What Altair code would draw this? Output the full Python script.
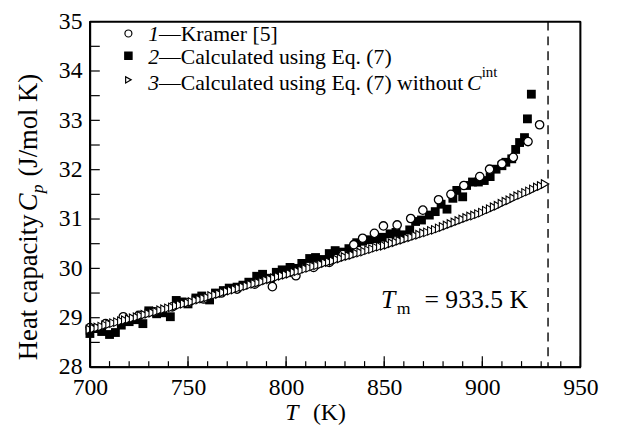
import altair as alt
import pandas as pd

# ---------------- data ----------------
# Series 3: calculated using Eq. (7) without C_int (dense, every 2 K)
tri_T = list(range(700, 933, 2))
tri_Cp = [
    28.76, 28.78, 28.80, 28.82, 28.85, 28.87, 28.89, 28.91, 28.93, 28.95, 28.97, 28.99, 29.01,
    29.04, 29.06, 29.08, 29.10, 29.12, 29.15, 29.17, 29.19, 29.21, 29.24, 29.26, 29.28, 29.30,
    29.32, 29.35, 29.37, 29.39, 29.41, 29.44, 29.46, 29.48, 29.51, 29.53, 29.55, 29.57, 29.60,
    29.62, 29.64, 29.67, 29.69, 29.71, 29.73, 29.76, 29.78, 29.80, 29.83, 29.85, 29.87,
    29.89, 29.92, 29.94, 29.96, 29.99, 30.01, 30.04, 30.06, 30.08, 30.11, 30.13, 30.15, 30.18,
    30.20, 30.23, 30.25, 30.27, 30.30, 30.32, 30.34, 30.37, 30.39, 30.42, 30.44, 30.46,
    30.48, 30.51, 30.53, 30.56, 30.58, 30.61, 30.63, 30.66, 30.68, 30.71, 30.73, 30.76, 30.78,
    30.81, 30.84, 30.87, 30.90, 30.93, 30.96, 30.99, 31.02, 31.05, 31.07, 31.10, 31.13,
    31.17, 31.20, 31.24, 31.27, 31.31, 31.35, 31.38, 31.42, 31.46, 31.49, 31.53, 31.56, 31.60,
    31.64, 31.67, 31.71,
]

# Series 2: calculated using Eq. (7)
sq_T = [700, 703, 706, 710, 713, 716, 720, 723, 727, 730, 734, 737, 741, 744, 747, 750,
        754, 757, 761, 764, 768, 771, 775, 778, 781, 785, 788, 792, 795, 798, 802, 805,
        808, 812, 815, 819, 822, 825, 829, 832, 836, 839, 842, 846, 849, 853, 856, 859,
        863, 866, 869, 873, 876, 879, 882, 885, 887, 890, 892, 895, 898, 901, 904, 907,
        910, 912, 915, 917, 919, 921.5, 923, 925]
sq_Cp = [28.68, 28.78, 28.72, 28.66, 28.70, 28.85, 28.92, 28.96, 28.88, 29.14, 29.08, 29.10,
         29.02, 29.35, 29.32, 29.28, 29.40, 29.44, 29.36, 29.50, 29.55, 29.60, 29.62, 29.66,
         29.72, 29.84, 29.88, 29.80, 29.92, 29.97, 30.02, 30.00, 30.10, 30.20, 30.22, 30.18,
         30.30, 30.36, 30.33, 30.40, 30.52, 30.55, 30.58, 30.60, 30.63, 30.70, 30.73, 30.68,
         30.78, 30.95, 30.98, 31.08, 31.15, 31.30, 31.20, 31.42, 31.58, 31.45, 31.68, 31.75,
         31.75, 31.78, 31.86, 32.01, 32.08, 32.15, 32.22, 32.41, 32.55, 32.65, 33.03, 33.53]

# Series 1: Kramer [5]
ci_T = [700, 708, 717, 725, 733, 742, 750, 758, 767, 775, 784, 793, 805, 814, 822, 829,
        834.5, 839, 845, 849.6, 856.6, 863.5, 869.7, 877.7, 884, 890.6, 898.7, 903.7, 910,
        915.8, 923.3, 929.2]
ci_Cp = [28.80, 28.88, 29.02, 29.05, 29.12, 29.22, 29.30, 29.38, 29.50, 29.58, 29.68, 29.63,
         29.85, 30.02, 30.12, 30.28, 30.48, 30.61, 30.71, 30.86, 30.88, 31.01, 31.18, 31.39,
         31.50, 31.68, 31.86, 32.01, 32.12, 32.25, 32.57, 32.91]

melt_T = [933.5]

x_major = [700, 750, 800, 850, 900, 950]
x_minor = list(range(710, 950, 10))
y_ticks = [28, 28.5, 29, 29.5, 30, 30.5, 31, 31.5, 32, 32.5, 33, 33.5, 34, 34.5, 35]
y_labels = [28, 29, 30, 31, 32, 33, 34, 35]
x_range = [700, 950]
y_range = [28, 35]

FONT = "Liberation Serif, Times New Roman, Times, serif"
W, H = 497, 350

xs = alt.Scale(domain=x_range, nice=False, zero=False)
ys = alt.Scale(domain=y_range, nice=False, zero=False)

X = alt.X("T:Q", scale=xs,
          axis=alt.Axis(values=x_major, ticks=False, domain=True, domainColor="black",
                        domainWidth=1.6, domainOpacity=1, grid=False, title=None,
                        labelFont=FONT, labelFontSize=24, labelPadding=9,
                        labelColor="black", labelFlush=False))
Y = alt.Y("Cp:Q", scale=ys,
          axis=alt.Axis(values=y_labels, ticks=False, domain=True, domainColor="black",
                        domainWidth=1.6, domainOpacity=1, grid=False, title=None,
                        labelFont=FONT, labelFontSize=24, labelPadding=8,
                        labelColor="black"))

one = pd.DataFrame({"a": [0]})

# ---------------- frame: top and right (data-driven rules) ----------------
frame_v = alt.Chart(pd.DataFrame({"T": x_range})).mark_rule(
    color="black", strokeWidth=1.8, opacity=1).encode(x=X)
frame_h = alt.Chart(pd.DataFrame({"Cp": y_range})).mark_rule(
    color="black", strokeWidth=1.8, opacity=1).encode(y=Y)

# ---------------- ticks (inward) ----------------
xmaj = alt.Chart(pd.DataFrame({"T": x_major})).mark_rule(color="black", strokeWidth=1.2).encode(
    x=X, y=alt.value(H), y2=alt.value(H - 11))
xmin = alt.Chart(pd.DataFrame({"T": x_minor})).mark_rule(color="black", strokeWidth=1.2).encode(
    x=X, y=alt.value(H), y2=alt.value(H - 6))
ytk = alt.Chart(pd.DataFrame({"Cp": y_ticks})).mark_rule(color="black", strokeWidth=1.2).encode(
    y=Y, x=alt.value(0), x2=alt.value(10))

# ---------------- data marks ----------------
squares = alt.Chart(pd.DataFrame({"T": sq_T, "Cp": sq_Cp})).mark_square(
    size=80, color="black", opacity=1).encode(x=X, y=Y)
circles = alt.Chart(pd.DataFrame({"T": ci_T, "Cp": ci_Cp})).mark_circle(
    size=72, fill="white", stroke="black", strokeWidth=1.3, opacity=1).encode(x=X, y=Y)
triangles = alt.Chart(pd.DataFrame({"T": tri_T, "Cp": tri_Cp})).mark_point(
    shape="triangle-right", size=75, filled=True, fill="white", stroke="black",
    strokeWidth=1.1, opacity=1).encode(x=X, y=Y)

melt = alt.Chart(pd.DataFrame({"T": melt_T})).mark_rule(
    color="black", strokeWidth=1.4, strokeDash=[9, 6]).encode(x=X)

# ---------------- texts ----------------
def txt(text, x, y, size=22, style="normal", angle=0, align="left", baseline="alphabetic"):
    return alt.Chart(one).mark_text(
        text=text, font=FONT, fontSize=size, fontStyle=style, color="black",
        align=align, baseline=baseline, angle=angle).encode(x=alt.value(x), y=alt.value(y))


def sym(shape, x, y, filled, size=52):
    return alt.Chart(one).mark_point(
        shape=shape, size=size, filled=True, fill="black" if filled else "white",
        stroke="black", strokeWidth=1.2, opacity=1).encode(x=alt.value(x), y=alt.value(y))


legend = [
    sym("circle", 39, 12, False, 50),
    sym("square", 39, 34.5, True, 55),
    sym("triangle-right", 39, 59, False, 42),
    txt("1", 59, 19.5, style="italic"),
    txt("\u2014Kramer [5]", 70, 19.5),
    txt("2", 59, 43, style="italic"),
    txt("\u2014Calculated using Eq. (7)", 70, 43),
    txt("3", 59, 69, style="italic"),
    txt("\u2014Calculated using Eq. (7) without", 70, 69),
    txt("C", 382, 69, style="italic"),
    txt("int", 397, 56, size=15),
]

annot = [
    txt("T", 295, 290, size=26, style="italic"),
    txt("m", 311, 296, size=18),
    txt("= 933.5 K", 339, 290, size=26),
    # x title
    txt("T", 198, 404, size=24, style="italic"),
    txt("(K)", 226, 404, size=24),
    # y title (rotated)
    txt("Heat capacity", -54, 343, size=27, angle=270),
    txt("C", -54, 192, size=27, style="italic", angle=270),
    txt("p", -48, 174, size=18, style="italic", angle=270),
    txt("(J/mol K)", -54, 157, size=27, angle=270),
]

chart = alt.layer(
    xmaj, xmin, ytk, squares, circles, triangles, melt, frame_v, frame_h, *legend, *annot
).properties(
    width=W, height=H,
    autosize=alt.AutoSizeParams(type="none"),
    padding={"left": 83, "top": 11, "right": 31, "bottom": 65},
).configure(
    background="white",
    view=alt.ViewConfig(stroke="black", strokeWidth=1.5),
)

chart.save("out.html", embed_options={"renderer": "svg", "actions": False})
